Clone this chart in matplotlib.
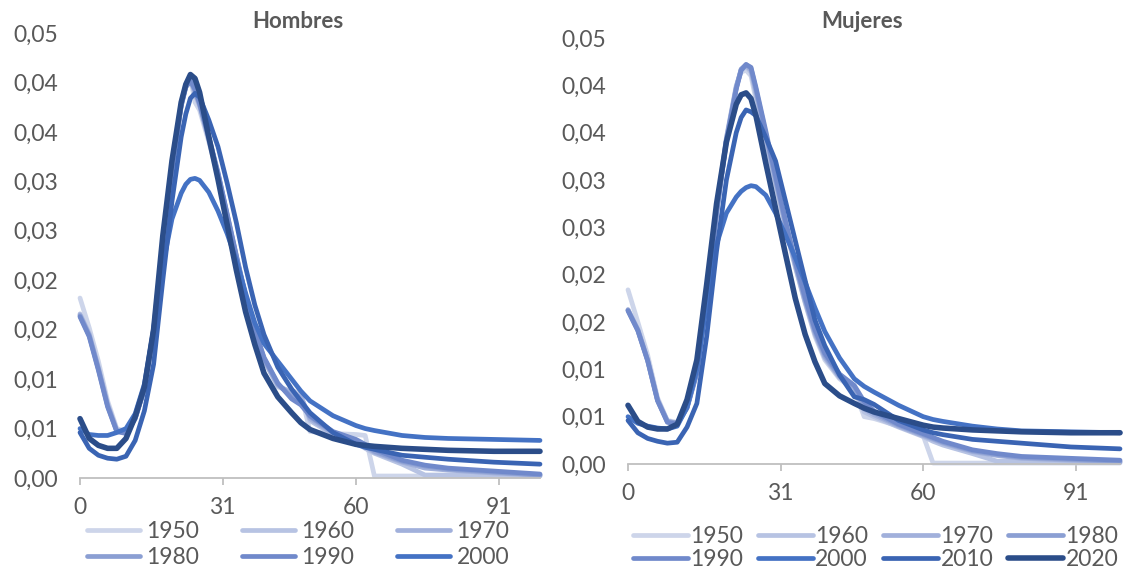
import matplotlib
matplotlib.use("Agg")
import matplotlib.pyplot as plt

# edades (eje x) y series
ages = [0, 2, 4, 6, 8, 10, 12, 14, 16, 18, 20, 22, 23, 24, 25, 26, 28, 30, 32, 34,
        36, 38, 40, 43, 46, 48, 50, 55, 60, 62, 64, 70, 75, 80, 90, 100]

years = ["1950", "1960", "1970", "1980", "1990", "2000", "2010", "2020"]
colors = ["#CDD5EA", "#B7C3E3", "#A1B0DB", "#8B9FD3", "#7089CB", "#4472C4", "#3A64B3", "#2B4D89"]

# Hombres
h1950 = [.0182, .0152, .0118, .0078, .0050, .0047, .0062, .0092, .0152, .0238, .0316, .0380, .0398, .0405, .0380, .0372, .0340, .0305, .0263, .0222,
         .0182, .0148, .0120, .0092, .0088, .0086, .0047, .0045, .0044, .0043, .0002, .0002, .0002, .0002, .0002, .0002]
h1960 = [.0166, .0146, .0112, .0075, .0048, .0046, .0060, .0090, .0150, .0236, .0315, .0378, .0397, .0404, .0388, .0376, .0342, .0306, .0264, .0222,
         .0182, .0147, .0119, .0093, .0086, .0084, .0058, .0044, .0036, .0030, .0025, .0014, .0003, .0003, .0003, .0002]
h1970 = [.0165, .0145, .0111, .0074, .0048, .0046, .0061, .0091, .0150, .0235, .0314, .0377, .0396, .0403, .0390, .0377, .0343, .0307, .0265, .0223,
         .0183, .0148, .0120, .0094, .0085, .0082, .0060, .0045, .0037, .0032, .0026, .0016, .0010, .0008, .0005, .0003]
h1980 = [.0164, .0144, .0110, .0073, .0047, .0046, .0061, .0091, .0149, .0234, .0313, .0377, .0396, .0402, .0392, .0378, .0344, .0308, .0266, .0224,
         .0184, .0149, .0121, .0095, .0082, .0078, .0062, .0046, .0038, .0033, .0027, .0017, .0012, .0009, .0006, .0003]
h1990 = [.0163, .0143, .0109, .0072, .0047, .0045, .0060, .0090, .0148, .0233, .0312, .0376, .0395, .0402, .0393, .0379, .0345, .0309, .0267, .0225,
         .0185, .0150, .0122, .0096, .0080, .0074, .0063, .0047, .0039, .0034, .0029, .0018, .0013, .0010, .0007, .0004]
h2000 = [.0050, .0044, .0043, .0043, .0046, .0050, .0065, .0095, .0150, .0215, .0262, .0288, .0297, .0302, .0303, .0301, .0289, .0270, .0247, .0220,
         .0187, .0157, .0136, .0118, .0100, .0088, .0078, .0063, .0053, .0050, .0048, .0043, .0041, .0040, .0039, .0038]
h2010 = [.0046, .0030, .0023, .0020, .0019, .0022, .0038, .0068, .0115, .0200, .0280, .0345, .0368, .0384, .0389, .0385, .0362, .0335, .0298, .0258,
         .0213, .0175, .0145, .0112, .0090, .0078, .0066, .0046, .0034, .0031, .0029, .0023, .0021, .0019, .0016, .0014]
h2020 = [.0060, .0040, .0033, .0030, .0030, .0040, .0062, .0092, .0150, .0245, .0321, .0380, .0398, .0408, .0404, .0390, .0345, .0302, .0256, .0210,
         .0168, .0135, .0106, .0082, .0066, .0056, .0049, .0040, .0034, .0033, .0032, .0030, .0029, .0028, .0027, .0027]

# Mujeres
m1950 = [.0184, .0150, .0115, .0070, .0046, .0044, .0062, .0100, .0180, .0270, .0345, .0400, .0414, .0416, .0410, .0385, .0340, .0295, .0250, .0208,
         .0170, .0135, .0110, .0090, .0078, .0050, .0048, .0040, .0030, .0001, .0001, .0001, .0001, .0001, .0001, .0001]
m1960 = [.0163, .0142, .0110, .0068, .0045, .0043, .0060, .0098, .0178, .0268, .0344, .0398, .0416, .0420, .0414, .0390, .0343, .0297, .0251, .0209,
         .0171, .0137, .0112, .0091, .0080, .0055, .0050, .0039, .0029, .0024, .0020, .0011, .0003, .0003, .0002, .0002]
m1970 = [.0163, .0142, .0110, .0068, .0045, .0043, .0060, .0098, .0177, .0267, .0343, .0398, .0417, .0421, .0416, .0393, .0346, .0299, .0253, .0210,
         .0172, .0138, .0113, .0092, .0081, .0058, .0052, .0040, .0030, .0026, .0022, .0013, .0009, .0006, .0004, .0002]
m1980 = [.0162, .0141, .0109, .0067, .0045, .0043, .0060, .0097, .0176, .0266, .0342, .0397, .0417, .0422, .0418, .0396, .0349, .0301, .0255, .0212,
         .0174, .0140, .0115, .0093, .0082, .0062, .0054, .0041, .0031, .0027, .0023, .0014, .0010, .0007, .0005, .0003]
m1990 = [.0162, .0141, .0109, .0067, .0044, .0042, .0059, .0096, .0175, .0265, .0341, .0396, .0416, .0422, .0419, .0398, .0352, .0304, .0257, .0214,
         .0176, .0142, .0117, .0095, .0083, .0066, .0056, .0042, .0032, .0028, .0024, .0015, .0011, .0008, .0006, .0004]
m2000 = [.0050, .0043, .0040, .0038, .0037, .0040, .0060, .0100, .0170, .0232, .0265, .0282, .0288, .0292, .0294, .0293, .0284, .0265, .0242, .0218,
         .0192, .0165, .0140, .0112, .0090, .0082, .0076, .0062, .0050, .0047, .0045, .0040, .0037, .0035, .0034, .0033]
m2010 = [.0046, .0033, .0027, .0024, .0022, .0023, .0039, .0064, .0135, .0225, .0300, .0350, .0366, .0374, .0372, .0368, .0345, .0320, .0278, .0236,
         .0194, .0152, .0125, .0094, .0071, .0068, .0063, .0046, .0036, .0033, .0031, .0026, .0024, .0022, .0018, .0016]
m2020 = [.0062, .0045, .0039, .0037, .0037, .0042, .0068, .0110, .0190, .0275, .0340, .0380, .0390, .0392, .0386, .0368, .0318, .0270, .0222, .0175,
         .0137, .0108, .0085, .0072, .0064, .0059, .0055, .0048, .0041, .0039, .0038, .0036, .0035, .0034, .0033, .0033]

hombres = [h1950, h1960, h1970, h1980, h1990, h2000, h2010, h2020]
mujeres = [m1950, m1960, m1970, m1980, m1990, m2000, m2010, m2020]

yticks = [0, .005, .010, .015, .020, .025, .030, .035, .040, .045]
ytick_labels = ["0,00", "0,01", "0,01", "0,02", "0,02", "0,03", "0,03", "0,04", "0,04", "0,05"]
xticks = [0, 31, 60, 91]

plt.rcParams['font.family'] = ['Lato', 'DejaVu Sans']
gray = "#595959"

fig = plt.figure(figsize=(11.3, 5.72), dpi=100)
W, H = 1130, 572
ax1 = fig.add_axes([80 / W, 1 - 478 / H, 460 / W, 445 / H])
ax2 = fig.add_axes([628 / W, 1 - 464 / H, 492 / W, 426 / H])


def draw(ax, series):
    lines = []
    for name, vals, c in zip(years, series, colors):
        lw = 4.0 if name == "2020" else 3.4
        ln, = ax.plot(ages, vals, color=c, lw=lw, label=name, clip_on=False,
                      solid_capstyle="round", solid_joinstyle="round")
        lines.append(ln)
    ax.set_xlim(0, 100)
    ax.set_ylim(0, 0.045)
    ax.set_yticks(yticks)
    ax.set_yticklabels(ytick_labels)
    ax.set_xticks(xticks)
    for s in ["top", "right", "left"]:
        ax.spines[s].set_visible(False)
    ax.spines["bottom"].set_color("#BFBFBF")
    ax.spines["bottom"].set_linewidth(1.3)
    ax.tick_params(axis="y", length=0, pad=16, labelsize=16.5, labelcolor=gray)
    ax.tick_params(axis="x", length=5, width=1.3, color="#BFBFBF", pad=9,
                   labelsize=16.5, labelcolor=gray)
    return lines


def row_major(items, ncol):
    # matplotlib fills legend columns first; reorder so entries read across rows
    nrow = (len(items) + ncol - 1) // ncol
    return [items[r * ncol + c] for c in range(ncol) for r in range(nrow)
            if r * ncol + c < len(items)]


l1 = draw(ax1, hombres)
l2 = draw(ax2, mujeres)

fig.text(298 / W, 1 - 22 / H, "Hombres", ha="center", va="center",
         fontsize=16, fontweight="bold", color=gray)
fig.text(862 / W, 1 - 22 / H, "Mujeres", ha="center", va="center",
         fontsize=16, fontweight="bold", color=gray)

# la leyenda de hombres solo muestra 6 series
leg1 = fig.legend(row_major(l1[:6], 3), row_major(years[:6], 3), loc="upper left",
                  bbox_to_anchor=(87 / W, 1 - 521 / H), ncol=3, frameon=False, fontsize=16.5,
                  handlelength=2.3, handletextpad=0.3, columnspacing=1.85, labelspacing=0.2,
                  borderaxespad=0, borderpad=0)
leg2 = fig.legend(row_major(l2, 4), row_major(years, 4), loc="upper left",
                  bbox_to_anchor=(633 / W, 1 - 526 / H), ncol=4, frameon=False, fontsize=16.5,
                  handlelength=2.4, handletextpad=0.1, columnspacing=0.65, labelspacing=0.1,
                  borderaxespad=0, borderpad=0)
for leg in (leg1, leg2):
    for t in leg.get_texts():
        t.set_color(gray)

fig.savefig("out.png", dpi=100)
